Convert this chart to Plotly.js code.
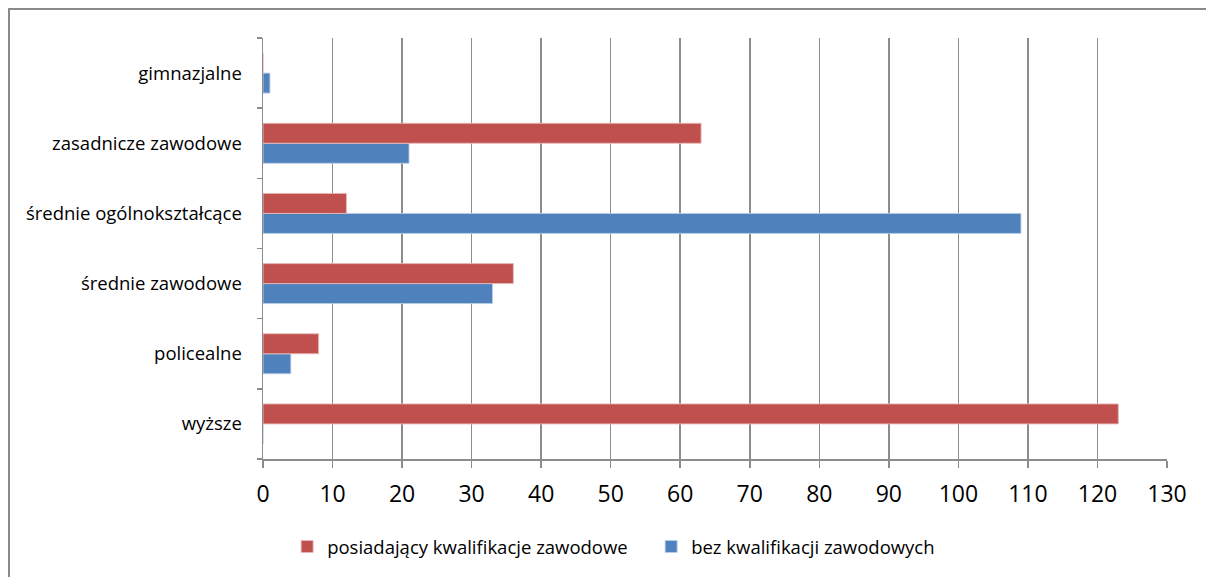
<!DOCTYPE html>
<html>
<head>
<meta charset="utf-8">
<script src="https://cdn.plot.ly/plotly-3.0.1.min.js"></script>
<style>
  html, body { margin: 0; padding: 0; background: #fff; }
  #chart { width: 1206px; height: 577px; }
  #frame { position: absolute; left: 8px; top: 8px; width: 1300px; height: 700px;
           border-left: 2px solid #8a8a8a; border-top: 2px solid #8a8a8a; pointer-events: none; }
</style>
</head>
<body>
<div id="chart"></div>
<div id="frame"></div>
<script>
// categories, bottom to top as drawn
const categories = ["wyższe", "policealne", "średnie zawodowe", "średnie ogólnokształcące", "zasadnicze zawodowe", "gimnazjalne"];
const seriesNames = ["posiadający kwalifikacje zawodowe", "bez kwalifikacji zawodowych"];
const withQualifications = [123, 8, 36, 12, 63, 0];
const withoutQualifications = [0, 4, 33, 109, 21, 1];
const xTicks = [0, 10, 20, 30, 40, 50, 60, 70, 80, 90, 100, 110, 120, 130];

const FONT = "Open Sans, Noto Sans, sans-serif";
const GRID = "#8c8c8c";

const traces = [
  {
    type: "bar", orientation: "h", name: seriesNames[1],
    y: categories, x: withoutQualifications,
    marker: { color: "#4F81BD", line: { color: "rgba(185,205,229,0.9)", width: 1 } },
    legendrank: 2, hoverinfo: "x+y"
  },
  {
    type: "bar", orientation: "h", name: seriesNames[0],
    y: categories, x: withQualifications,
    marker: { color: "#C0504D", line: { color: "rgba(230,185,184,0.9)", width: 1 } },
    legendrank: 1, hoverinfo: "x+y"
  }
];

const layout = {
  width: 1206, height: 577,
  margin: { l: 263, r: 39, t: 38, b: 117 },
  paper_bgcolor: "rgba(0,0,0,0)",
  plot_bgcolor: "#ffffff",
  font: { family: FONT, color: "#000000" },
  barmode: "group",
  bargap: 0.43,
  bargroupgap: 0,
  showlegend: true,
  legend: {
    orientation: "h", x: 0.0267, xanchor: "left", y: -0.206, yanchor: "middle",
    font: { family: FONT, size: 18.5, color: "#000" },
    traceorder: "normal", entrywidth: 319, entrywidthmode: "pixels"
  },
  xaxis: {
    range: [0, 130], tickvals: xTicks, ticktext: xTicks.map(String),
    showgrid: true, gridcolor: GRID, gridwidth: 1.5,
    zeroline: false,
    showline: true, linecolor: GRID, linewidth: 1.5,
    ticks: "outside", ticklen: 7, tickcolor: GRID, tickwidth: 1.5,
    tickfont: { family: FONT, size: 23, color: "#000" },
    ticklabelstandoff: 7,
    fixedrange: true
  },
  yaxis: {
    type: "category", categoryorder: "array", categoryarray: categories,
    showgrid: false, zeroline: false,
    showline: true, linecolor: GRID, linewidth: 1.5,
    ticks: "outside", ticklen: 5, tickcolor: GRID, tickwidth: 1.5,
    tickson: "boundaries",
    tickfont: { family: FONT, size: 18.5, color: "#000" },
    ticklabelstandoff: 16,
    fixedrange: true
  }
};

Plotly.newPlot("chart", traces, layout, { displayModeBar: false, staticPlot: true });
</script>
</body>
</html>
